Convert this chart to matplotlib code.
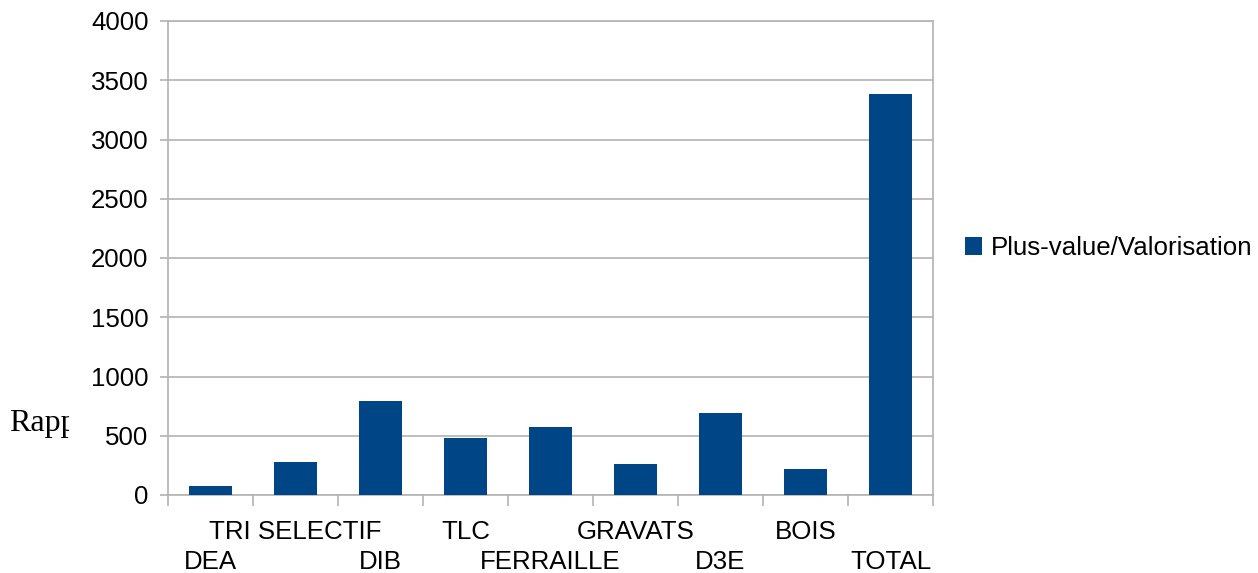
import matplotlib.pyplot as plt
import numpy as np
from matplotlib.patches import Rectangle

categories = ['DEA', 'TRI SELECTIF', 'DIB', 'TLC', 'FERRAILLE',
              'GRAVATS', 'D3E', 'BOIS', 'TOTAL']
values = [78, 282, 797, 480, 578, 264, 690, 217, 3388]
series_name = 'Plus-value/Valorisation'
yticks = [0, 500, 1000, 1500, 2000, 2500, 3000, 3500, 4000]

plt.rcParams['font.family'] = ['Liberation Sans', 'DejaVu Sans']

fig = plt.figure(figsize=(12.58, 5.73), dpi=100)
ax = fig.add_axes([168 / 1258, 1 - 495 / 573, (933 - 168) / 1258, (495 - 21) / 573])

x = np.arange(len(categories))
ax.bar(x, values, width=0.5, color='#004586', label=series_name, zorder=3)

ax.set_xlim(-0.5, len(categories) - 0.5)
ax.set_ylim(0, 4000)
ax.set_yticks(yticks)
ax.yaxis.grid(True, color='#b3b3b3', linewidth=1.2, zorder=0)

# labels alternate between two rows
labels = [('\n' + c) if i % 2 == 0 else c for i, c in enumerate(categories)]
ax.set_xticks(x)
ax.set_xticklabels(labels, linespacing=1.32)
ax.set_xticks(np.arange(len(categories) + 1) - 0.5, minor=True)
ax.tick_params(axis='x', which='major', length=0, pad=18, labelsize=18.6)
ax.tick_params(axis='x', which='minor', length=8, width=1.2, color='#b3b3b3', direction='out')
ax.tick_params(axis='y', length=6, width=1.2, color='#b3b3b3', pad=8, labelsize=18.6)

for s in ax.spines.values():
    s.set_color('#b3b3b3')
    s.set_linewidth(1.2)

# partially hidden title text behind the chart area
fig.text(9 / 1258, 1 - 423 / 573, 'Rapport', family='Liberation Serif', fontsize=23,
         va='center', ha='left', zorder=-2)
fig.patches.append(Rectangle((69 / 1258, 0), 1, 1, transform=fig.transFigure,
                             facecolor='white', edgecolor='none', zorder=-1))

ax.legend(loc='center left', bbox_to_anchor=(952 / 1258, 1 - 248 / 573),
          bbox_transform=fig.transFigure, frameon=False, fontsize=18.6,
          handlelength=0.65, handleheight=0.65, handletextpad=0.35, borderpad=0)

fig.savefig('out.png', dpi=100)
